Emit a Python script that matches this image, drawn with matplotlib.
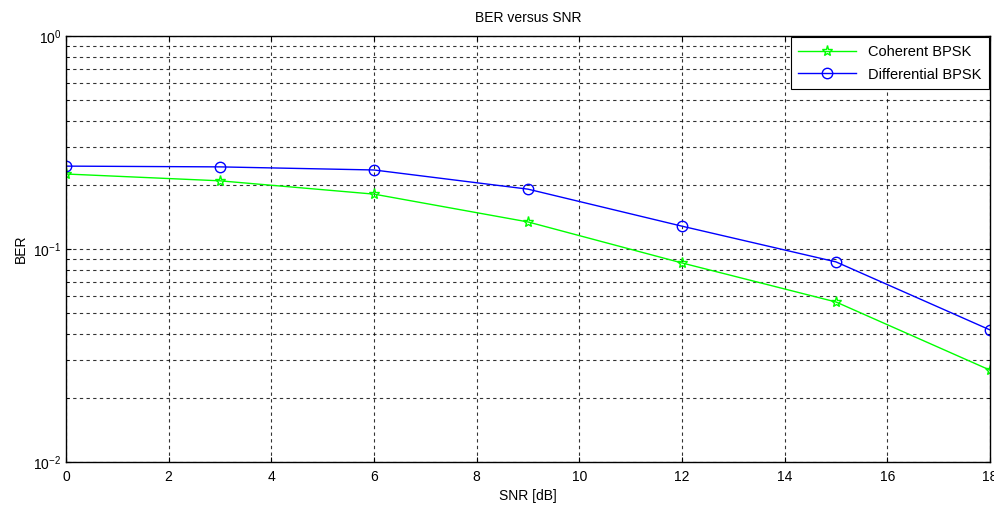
import matplotlib
matplotlib.use("Agg")
import matplotlib.pyplot as plt
from matplotlib.ticker import LogLocator

plt.rcParams['font.family'] = ['Liberation Sans', 'DejaVu Sans']
plt.rcParams['mathtext.fontset'] = 'custom'
plt.rcParams['mathtext.rm'] = 'Liberation Sans'

snr_db = [0, 3, 6, 9, 12, 15, 18]
ber_coherent = [0.225, 0.209, 0.181, 0.134, 0.086, 0.0564, 0.027]
ber_differential = [0.245, 0.243, 0.235, 0.191, 0.128, 0.087, 0.0417]
xticks = [0, 2, 4, 6, 8, 10, 12, 14, 16, 18]

fig = plt.figure(figsize=(9.95, 5.05), dpi=100)
ax = fig.add_axes([0.0663, 0.0851, 0.9287, 0.8436])

ax.semilogy(snr_db, ber_coherent, color='#00ff00', marker='*', markersize=8,
            markerfacecolor='none', markeredgecolor='#00ff00', linewidth=1,
            label='Coherent BPSK')
ax.semilogy(snr_db, ber_differential, color='#0000ff', marker='o', markersize=7.5,
            markerfacecolor='none', markeredgecolor='#0000ff', linewidth=1,
            label='Differential BPSK')

ax.set_xlim(0, 18)
ax.set_ylim(1e-2, 1)
ax.set_xticks(xticks)
ax.yaxis.set_major_locator(LogLocator(base=10, numticks=5))
ax.yaxis.set_minor_locator(LogLocator(base=10, subs=range(2, 10), numticks=20))

ax.grid(True, which='major', axis='both', color='black', linestyle=(0, (3, 3)), linewidth=0.8, alpha=0.8)
ax.grid(True, which='minor', axis='y', color='black', linestyle=(0, (3, 3)), linewidth=0.8, alpha=0.8)

ax.tick_params(axis='both', which='both', direction='in', labelsize=10, top=True, right=True)
ax.tick_params(axis='x', pad=6)
ax.tick_params(axis='y', which='minor', labelleft=False)
for s in ax.spines.values():
    s.set_linewidth(1)

ax.set_title('BER versus SNR', fontsize=10, pad=10)
ax.set_xlabel('SNR [dB]', fontsize=10, labelpad=3)
ax.set_ylabel('BER', fontsize=10, labelpad=4)

leg = ax.legend(loc='upper right', fontsize=10.5, fancybox=False, framealpha=1,
                edgecolor='black', borderaxespad=0.1, handlelength=4,
                labelspacing=0.6, borderpad=0.5)
leg.get_frame().set_linewidth(0.8)

fig.savefig('out.png', dpi=100)
